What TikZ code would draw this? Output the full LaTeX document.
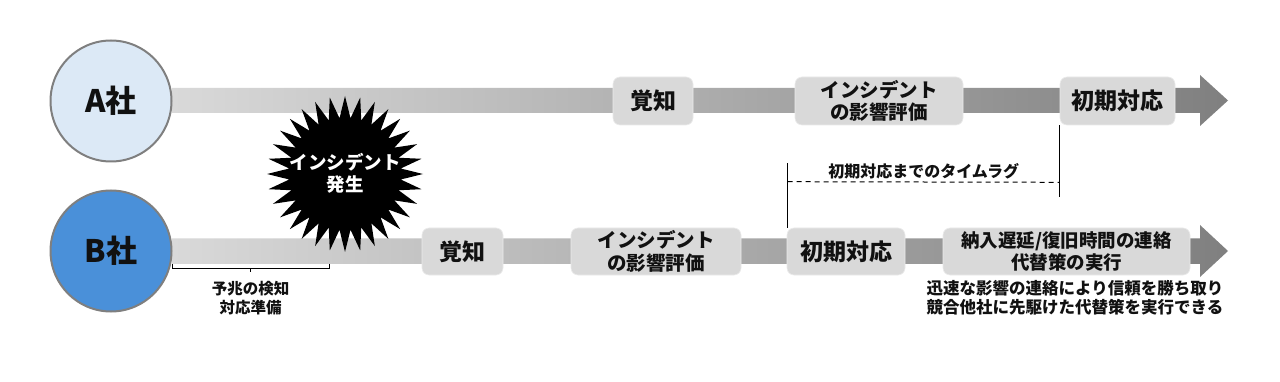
\documentclass[tikz,border=0pt]{standalone}
\usepackage{fontspec}
\setmainfont{Noto Sans CJK JP}
\usetikzlibrary{calc}
\definecolor{boxgray}{HTML}{D9D9D9}
\definecolor{acol}{HTML}{DCE9F6}
\definecolor{bcol}{HTML}{4A90D9}
\definecolor{rimgray}{HTML}{7F7F7F}
\definecolor{txt}{HTML}{111111}
\tikzset{
  co/.style={circle, draw=rimgray, line width=2pt, minimum size=121pt, inner sep=0pt,
    font=\bfseries\fontsize{31}{34}\selectfont, text=txt},
  stage/.style={rectangle, rounded corners=7pt, fill=boxgray, draw=white!92!black, line width=0.6pt,
    inner sep=0pt, align=center, text=txt, font=\bfseries\fontsize{23}{26}\selectfont},
  stage2/.style={stage, font=\bfseries\fontsize{19.5}{22.5}\selectfont},
  stage3/.style={stage, font=\bfseries\fontsize{18.5}{22.5}\selectfont},
  bar/.style={left color=boxgray, right color=black!50, draw=none},
  note/.style={align=center, text=txt, font=\bfseries\fontsize{16.5}{19.5}\selectfont, inner sep=0pt},
  lagline/.style={line width=1pt, black},
}
\begin{document}
\begin{tikzpicture}[x=1pt,y=-1pt]
\useasboundingbox (0,0) rectangle (1280,382);
\fill[white] (0,0) rectangle (1280,382);
% bars
\path[bar] (172,88) -- (1200,88) -- (1200,75) -- (1228,100.5) -- (1200,126) -- (1200,113) -- (172,113) -- cycle;
\path[bar] (172,238.5) -- (1200,238.5) -- (1200,225) -- (1228,251) -- (1200,277) -- (1200,264) -- (172,264) -- cycle;
% companies
\node[co, fill=acol] (A) at (111,101) {A社};
\node[co, fill=bcol] (B) at (111,251) {B社};
% A stages
\node[stage, minimum width=80pt, minimum height=48pt] (a1) at (653,101) {覚知};
\node[stage2, minimum width=168pt, minimum height=48pt] (a2) at (879,101) {インシデント\\の影響評価};
\node[stage, minimum width=115pt, minimum height=48pt] (a3) at (1117.5,101) {初期対応};
% B stages
\node[stage, minimum width=81pt, minimum height=47pt] (b1) at (462.5,251.5) {覚知};
\node[stage2, minimum width=170pt, minimum height=47pt] (b2) at (656,251.5) {インシデント\\の影響評価};
\node[stage, minimum width=118pt, minimum height=47pt] (b3) at (846,251.5) {初期対応};
\node[stage3, minimum width=247pt, minimum height=47pt] (b4) at (1066.5,251.5) {納入遅延/復旧時間の連絡\\代替策の実行};
% incident starburst
\fill[black] plot[domain=0:64, samples=65, variable=\k]
  ({345+(67+11*cos(\k*180))*cos(90+\k*5.625)}, {174+(67+11*cos(\k*180))*sin(90+\k*5.625)}) -- cycle;
\node[align=center, inner sep=0pt, text=white, font=\bfseries\fontsize{18.5}{22}\selectfont] (inc) at (345,173) {インシデント\\発生};
% bracket under B bar
\coordinate (brL) at (172,264);
\coordinate (brR) at (329,264);
\draw[lagline] (brL) -- ++(0,4) -| (brR);
\coordinate (brM) at (250.5,268);
\draw[lagline] (brM) -- ++(0,4) coordinate (brT);
\node[note, anchor=north, font=\bfseries\fontsize{15.5}{19.5}\selectfont] (prep) at ($(brT)+(0,9)$) {予兆の検知\\対応準備};
% lag
\coordinate (lagL) at ($(b3.north west)+(1,-65)$);
\coordinate (lagR) at ($(a3.south west)+(0,72)$);
\draw[lagline] (b3.north west) ++(1,0) -- (lagL);
\draw[lagline] (a3.south west) -- (lagR);
\coordinate (dL) at ($(lagL)+(0,19)$);
\coordinate (dR) at ($(lagR)+(0,-15)$);
\draw[lagline, dash pattern=on 5pt off 4pt] (dL) -- (dR);
\node[text=txt, font=\bfseries\fontsize{16}{19}\selectfont, inner sep=0pt, anchor=south] (laglbl) at ($(dL)!0.5!(dR)+(0,-3)$) {初期対応までのタイムラグ};
% benefit note
\node[note, anchor=north] (benefit) at (1075,280) {迅速な影響の連絡により信頼を勝ち取り\\競合他社に先駆けた代替策を実行できる};
\end{tikzpicture}
\end{document}
